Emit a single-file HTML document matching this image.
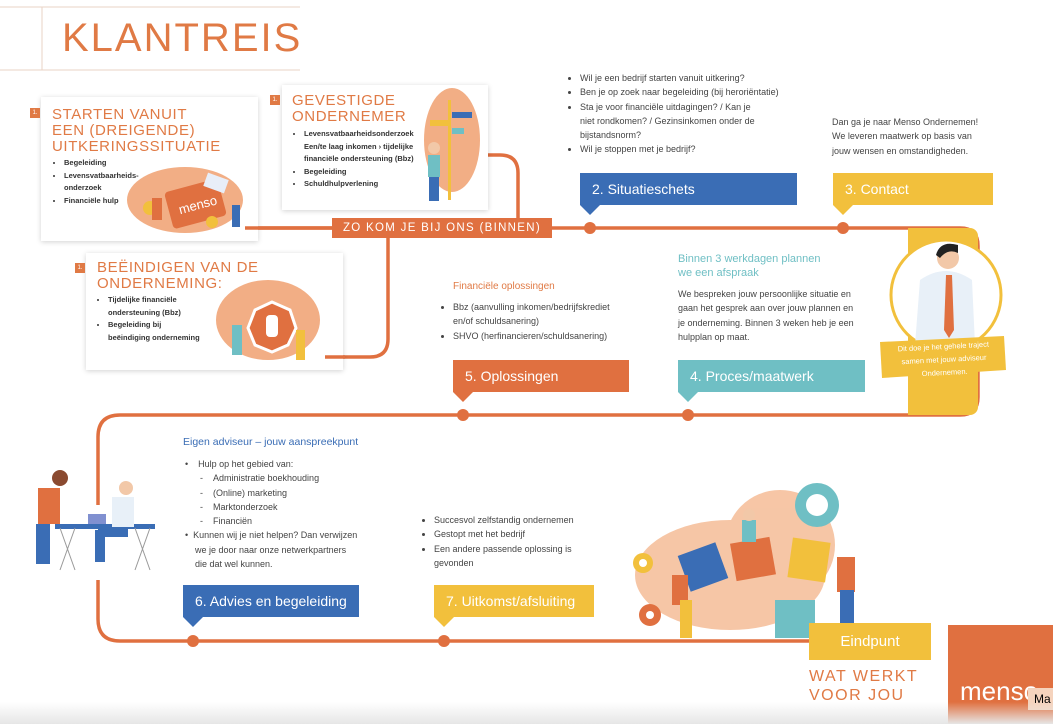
<!DOCTYPE html>
<html><head><meta charset="utf-8"><style>
body{margin:0;width:1053px;height:724px;overflow:hidden;background:#fff;font-family:"Liberation Sans",sans-serif;position:relative}
.a{position:absolute}
.card{position:absolute;background:#fff;box-shadow:0 1px 5px rgba(0,0,0,.18)}
.sq{position:absolute;width:10px;height:10px;background:#e07a45;color:#fff;font-size:6px;line-height:10px;text-align:center}
.ttl{position:absolute;color:#e07a45;font-size:15px;letter-spacing:0.6px;line-height:16px;font-weight:300}
.bl{position:absolute;font-size:7.5px;font-weight:bold;color:#333;line-height:12.5px;margin:0;padding-left:14px}
.tx{position:absolute;font-size:9px;color:#444;line-height:14.3px}
.box{position:absolute;color:#fff;font-size:14px;line-height:32px;height:32px;padding-left:12px;box-sizing:border-box}
.box:after{content:"";position:absolute;left:0;top:32px;border-left:10px solid transparent;border-right:10px solid transparent;border-top:10px solid;border-top-color:inherit}
</style></head><body>
<svg class="a" style="left:0;top:0" width="1053" height="724">
<line x1="0" y1="7" x2="300" y2="7" stroke="#ead3c6"/>
<line x1="0" y1="70" x2="300" y2="70" stroke="#ead3c6"/>
<line x1="42" y1="7" x2="42" y2="70" stroke="#ead3c6"/>
<g fill="none" stroke="#e07040" stroke-width="3.5">
<path d="M245,228 H960 Q978,228 978,246 V397 Q978,415 960,415 H120 Q98,415 98,437 V505"/>
<path d="M98,580 V619 Q98,641 120,641 H810"/>
<path d="M488,155 H500 Q518,155 518,173 V228"/>
<path d="M325,357 H370 Q388,357 388,339 V238"/>
</g>
<g fill="#e07040"><circle cx="590" cy="228" r="6"/><circle cx="843" cy="228" r="6"/><circle cx="463" cy="415" r="6"/><circle cx="688" cy="415" r="6"/><circle cx="193" cy="641" r="6"/><circle cx="444" cy="641" r="6"/></g>
<rect x="908" y="228" width="70" height="187" rx="8" fill="#f2c03c"/>
<rect x="908" y="228" width="20" height="187" fill="#f2c03c"/>
<circle cx="946" cy="295" r="55" fill="#fff" stroke="#f2c03c" stroke-width="3"/>
<path d="M915,345 L920,280 Q946,262 972,280 L975,345Z" fill="#e8f0f8"/>
<circle cx="948" cy="258" r="11" fill="#f2c8a8"/><path d="M936,255 Q940,240 958,245 L958,253 Q948,248 940,258Z" fill="#222"/>
<path d="M946,275 L952,275 L954,330 L949,338 L944,330Z" fill="#e07040"/>
<polygon points="880,342 1004,336 1006,370 882,378" fill="#f2c03c"/>
<!-- puzzle -->
<g fill="#f5b890" opacity=".8"><ellipse cx="730" cy="575" rx="95" ry="55"/><ellipse cx="780" cy="545" rx="55" ry="55"/></g>
<circle cx="817" cy="505" r="22" fill="#6fbfc4"/><circle cx="817" cy="505" r="11" fill="#fff"/>
<circle cx="643" cy="563" r="10" fill="#f2c03c"/><circle cx="643" cy="563" r="4" fill="#fff"/>
<circle cx="650" cy="615" r="11" fill="#e07040"/><circle cx="650" cy="615" r="4" fill="#fff"/>
<rect x="683" y="548" width="40" height="38" fill="#3a6db5" transform="rotate(-20 703 567)"/>
<rect x="733" y="540" width="40" height="38" fill="#e07040" transform="rotate(-10 753 559)"/>
<rect x="790" y="540" width="38" height="40" fill="#f2c03c" transform="rotate(8 809 560)"/>
<rect x="775" y="600" width="40" height="38" fill="#6fbfc4"/>
<rect x="672" y="575" width="16" height="30" fill="#e07040"/><rect x="680" y="600" width="12" height="38" fill="#f2c03c"/>
<rect x="837" y="557" width="18" height="35" fill="#e07040"/><rect x="840" y="590" width="14" height="45" fill="#3a6db5"/>
<rect x="742" y="520" width="14" height="22" fill="#6fbfc4"/><circle cx="749" cy="515" r="6" fill="#f2c8a8"/>
<!-- desk -->
<rect x="55" y="524" width="100" height="5" fill="#3a6db5"/>
<rect x="38" y="488" width="22" height="36" fill="#e07040"/><rect x="36" y="524" width="14" height="40" fill="#3a6db5"/><circle cx="60" cy="478" r="8" fill="#8a4a30"/>
<rect x="112" y="497" width="22" height="30" fill="#e8f0f8"/><circle cx="126" cy="488" r="7" fill="#f2c8a8"/>
<rect x="98" y="527" width="30" height="10" fill="#3a6db5"/><rect x="95" y="530" width="10" height="32" fill="#3a6db5"/>
<rect x="88" y="514" width="18" height="10" fill="#8090d0"/>
<line x1="60" y1="528" x2="75" y2="570" stroke="#999"/><line x1="75" y1="528" x2="60" y2="570" stroke="#999"/>
<line x1="135" y1="528" x2="150" y2="570" stroke="#999"/><line x1="150" y1="528" x2="135" y2="570" stroke="#999"/>
<rect x="948" y="625" width="105" height="99" fill="#e07040"/>
<text x="960" y="700" fill="#fff" font-size="26" font-family="Liberation Sans" font-weight="300">menso</text>
</svg>
<div class="a" style="left:62px;top:16px;font-size:40px;color:#e07a45;letter-spacing:2px;font-weight:300">KLANTREIS</div>

<div class="card" style="left:41px;top:97px;width:217px;height:144px"></div>
<div class="sq" style="left:30px;top:108px">1.</div>
<div class="ttl" style="left:52px;top:107px">STARTEN VANUIT<br>EEN (DREIGENDE)<br>UITKERINGSSITUATIE</div>
<ul class="bl" style="left:50px;top:157px;width:80px">
<li>Begeleiding</li><li>Levensvatbaarheids-<br>onderzoek</li><li>Financiële hulp</li></ul>

<div class="card" style="left:282px;top:85px;width:206px;height:125px"></div>
<div class="sq" style="left:270px;top:95px">1.</div>
<div class="ttl" style="left:292px;top:93px">GEVESTIGDE<br>ONDERNEMER</div>
<ul class="bl" style="left:290px;top:128px;width:130px">
<li>Levensvatbaarheidsonderzoek<br>Een/te laag inkomen › tijdelijke<br>financiële ondersteuning (Bbz)</li><li>Begeleiding</li><li>Schuldhulpverlening</li></ul>

<div class="card" style="left:86px;top:253px;width:257px;height:117px"></div>
<div class="sq" style="left:75px;top:263px">1.</div>
<div class="ttl" style="left:97px;top:260px">BEËINDIGEN VAN DE<br>ONDERNEMING:</div>
<ul class="bl" style="left:94px;top:294px;width:120px">
<li>Tijdelijke financiële<br>ondersteuning (Bbz)</li><li>Begeleiding bij<br>beëindiging onderneming</li></ul>

<svg class="a" style="left:0;top:0" width="1053" height="724">
<g fill="none" stroke="#e07040" stroke-width="3.5"><path d="M245,228 H332"/><path d="M325,357 H345"/></g>
<!-- card1 illus -->
<g fill="#f0a070" opacity=".85"><ellipse cx="185" cy="200" rx="58" ry="33"/><ellipse cx="452" cy="140" rx="28" ry="52"/><ellipse cx="268" cy="320" rx="52" ry="40"/></g>
<rect x="168" y="185" width="55" height="38" rx="4" fill="#e07040" transform="rotate(-15 195 204)"/>
<text x="178" y="210" fill="#fff" font-size="13" font-family="Liberation Sans" transform="rotate(-15 195 204)">menso</text>
<rect x="205" y="176" width="22" height="14" fill="#e8eef8" transform="rotate(20 216 183)"/>
<circle cx="150" cy="208" r="7" fill="#f2c03c"/><circle cx="212" cy="222" r="6" fill="#f2c03c"/>
<rect x="152" y="198" width="10" height="22" fill="#e07040"/><rect x="232" y="205" width="8" height="22" fill="#3a6db5"/>
<rect x="448" y="100" width="3" height="100" fill="#f2c03c"/>
<rect x="452" y="112" width="20" height="6" fill="#3a6db5"/><rect x="430" y="120" width="20" height="6" fill="#f2c03c"/><rect x="452" y="128" width="12" height="6" fill="#6fbfc4"/>
<circle cx="434" cy="148" r="6" fill="#f2c8a8"/><rect x="428" y="155" width="12" height="22" fill="#6fbfc4"/><rect x="429" y="177" width="10" height="24" fill="#3a6db5"/>
<polygon points="255,310 272,302 290,310 296,328 288,345 272,352 255,345 248,328" fill="#e07040" stroke="#fff" stroke-width="3"/>
<rect x="266" y="315" width="12" height="22" rx="4" fill="#fff"/>
<rect x="232" y="325" width="10" height="30" fill="#6fbfc4"/><rect x="296" y="330" width="9" height="30" fill="#f2c03c"/>
</svg>
<div class="a" style="left:332px;top:218px;width:220px;height:20px;background:#e07040;color:#fff;font-size:11.5px;letter-spacing:1.3px;line-height:20px;text-align:center">ZO KOM JE BIJ ONS (BINNEN)</div>

<ul class="tx" style="left:566px;top:71px;width:200px;margin:0;padding-left:14px">
<li>Wil je een bedrijf starten vanuit uitkering?</li><li>Ben je op zoek naar begeleiding (bij heroriëntatie)</li><li>Sta je voor financiële uitdagingen? / Kan je<br>niet rondkomen? / Gezinsinkomen onder de<br>bijstandsnorm?</li><li>Wil je stoppen met je bedrijf?</li></ul>
<div class="tx" style="left:832px;top:115px">Dan ga je naar Menso Ondernemen!<br>We leveren maatwerk op basis van<br>jouw wensen en omstandigheden.</div>
<div class="box" style="left:580px;top:173px;width:217px;background:#3a6db5;border-color:#3a6db5">2. Situatieschets</div>
<div class="box" style="left:833px;top:173px;width:160px;background:#f2c03c;border-color:#f2c03c">3. Contact</div>

<div class="a" style="left:453px;top:281px;font-size:10px;color:#e07a45">Financiële oplossingen</div>
<ul class="tx" style="left:441px;top:300px;width:200px;margin:0;padding-left:12px">
<li>Bbz (aanvulling inkomen/bedrijfskrediet<br>en/of schuldsanering)</li><li>SHVO (herfinancieren/schuldsanering)</li></ul>
<div class="box" style="left:453px;top:360px;width:176px;background:#e07040;border-color:#e07040">5. Oplossingen</div>

<div class="a" style="left:678px;top:252px;font-size:11px;color:#6fbfc4;line-height:14px">Binnen 3 werkdagen plannen<br>we een afspraak</div>
<div class="tx" style="left:678px;top:287px">We bespreken jouw persoonlijke situatie en<br>gaan het gesprek aan over jouw plannen en<br>je onderneming. Binnen 3 weken heb je een<br>hulpplan op maat.</div>
<div class="box" style="left:678px;top:360px;width:187px;background:#6fbfc4;border-color:#6fbfc4">4. Proces/maatwerk</div>
<div class="a" style="left:882px;top:340px;width:124px;font-size:7.5px;color:#fff;text-align:center;line-height:13px;transform:rotate(-3deg)">Dit doe je het gehele traject<br>samen met jouw adviseur<br>Ondernemen.</div>

<div class="a" style="left:183px;top:436px;font-size:10.5px;color:#3a6db5">Eigen adviseur – jouw aanspreekpunt</div>
<div class="tx" style="left:185px;top:457px">•&nbsp;&nbsp;&nbsp;&nbsp;Hulp op het gebied van:<br>
&nbsp;&nbsp;&nbsp;&nbsp;&nbsp;&nbsp;-&nbsp;&nbsp;&nbsp;&nbsp;Administratie boekhouding<br>
&nbsp;&nbsp;&nbsp;&nbsp;&nbsp;&nbsp;-&nbsp;&nbsp;&nbsp;&nbsp;(Online) marketing<br>
&nbsp;&nbsp;&nbsp;&nbsp;&nbsp;&nbsp;-&nbsp;&nbsp;&nbsp;&nbsp;Marktonderzoek<br>
&nbsp;&nbsp;&nbsp;&nbsp;&nbsp;&nbsp;-&nbsp;&nbsp;&nbsp;&nbsp;Financiën<br>
•&nbsp;&nbsp;Kunnen wij je niet helpen? Dan verwijzen<br>
&nbsp;&nbsp;&nbsp;&nbsp;we je door naar onze netwerkpartners<br>
&nbsp;&nbsp;&nbsp;&nbsp;die dat wel kunnen.</div>
<div class="box" style="left:183px;top:585px;width:176px;background:#3a6db5;border-color:#3a6db5">6. Advies en begeleiding</div>

<ul class="tx" style="left:420px;top:513px;width:190px;margin:0;padding-left:14px">
<li>Succesvol zelfstandig ondernemen</li><li>Gestopt met het bedrijf</li><li>Een andere passende oplossing is<br>gevonden</li></ul>
<div class="box" style="left:434px;top:585px;width:160px;background:#f2c03c;border-color:#f2c03c">7. Uitkomst/afsluiting</div>

<div class="a" style="left:809px;top:623px;width:122px;height:37px;background:#f2c03c;color:#fff;font-size:15px;line-height:37px;text-align:center">Eindpunt</div>
<div class="a" style="left:809px;top:667px;font-size:16px;color:#e07a45;letter-spacing:1.5px;line-height:19px;font-weight:300">WAT WERKT<br>VOOR JOU</div>
<div class="a" style="left:1028px;top:688px;width:25px;height:22px;background:#f5d3bd;font-size:12px;line-height:22px;padding-left:6px;box-sizing:border-box">Ma</div>
<div class="a" style="left:0;top:702px;width:1053px;height:22px;background:linear-gradient(rgba(230,230,230,0),#e6e6e6)"></div>
</body></html>
